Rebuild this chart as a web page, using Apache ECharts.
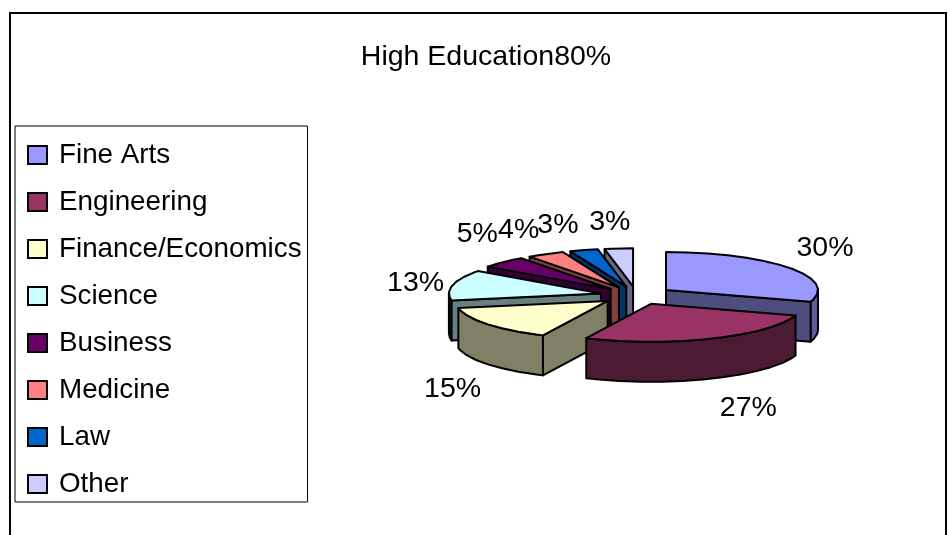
<!DOCTYPE html>
<html>
<head>
<meta charset="utf-8">
<style>html,body{margin:0;padding:0;background:#fff}#chart{width:948px;height:535px}</style>
<script src="https://cdn.jsdelivr.net/npm/echarts@6/dist/echarts.min.js"></script>
</head>
<body>
<div id="chart"></div>
<script>
// Field-of-study shares, in percent, clockwise from twelve o'clock
const categories = ['Fine Arts', 'Engineering', 'Finance/Economics', 'Science', 'Business', 'Medicine', 'Law', 'Other'];
const shares = [30, 27, 15, 13, 5, 4, 3, 3];
const chartTitle = 'High Education80%';

// Slice styling: top face, cut face, outer wall
const topColors = ['#9999ff', '#993366', '#ffffcc', '#ccffff', '#660066', '#ff8080', '#0066cc', '#ccccff'];
const cutColors = ['#4d4d80', '#4d1a33', '#808066', '#668080', '#330033', '#804040', '#003366', '#666680'];
const wallColors = ['#5c5c99', '#4d1a33', '#808066', '#003333', '#330033', '#804040', '#003366', '#666680'];

// Nudges from each slice's rim to its percentage label
const labelNudge = [[36, -20], [37, 29], [-35, 25], [-37, -2], [-26, -28], [-27, -24], [-26, -25], [-9, -26]];

// Tilted pie layout
const pie = { cx: 636.5, cy: 295.4, rx: 152, ry: 38, depth: 40, explode: 0.24, facet: 8 };
const FAMILY = '"Liberation Sans", Arial, sans-serif';
const FONT = '28.5px ' + FAMILY;

const total = shares.reduce((a, b) => a + b, 0);
const rad = d => d * Math.PI / 180;

function sliceAngles(index) {
  const before = shares.slice(0, index).reduce((a, b) => a + b, 0);
  return [before / total * 360, (before + shares[index]) / total * 360];
}

// Sweep of degrees with facet stops, always including both ends
function sweep(from, to) {
  const out = [from];
  let a = (Math.floor(from / pie.facet) + 1) * pie.facet;
  for (; a < to; a += pie.facet) out.push(a);
  out.push(to);
  return out;
}

function renderSlice(index, api) {
  const value = api.value(0);
  const [start] = sliceAngles(index);
  const end = start + value / total * 360;
  const mid = (start + end) / 2;
  const ax = pie.cx + pie.explode * pie.rx * Math.sin(rad(mid));
  const ay = pie.cy - pie.explode * pie.ry * Math.cos(rad(mid));
  const rim = d => [ax + pie.rx * Math.sin(rad(d)), ay - pie.ry * Math.cos(rad(d))];
  const drop = p => [p[0], p[1] + pie.depth];
  const line = { stroke: '#000', lineWidth: 2, lineJoin: 'round' };
  const poly = (points, fill) => ({ type: 'polygon', shape: { points }, style: { fill, ...line } });
  const children = [];

  // The outer wall shows only along the near half of the rim
  const wallFrom = Math.max(start, 90), wallTo = Math.min(end, 270);
  if (wallFrom < wallTo) {
    const arc = sweep(wallFrom, wallTo).map(rim);
    children.push(poly(arc.concat(arc.map(drop).reverse()), wallColors[index]));
  }
  // Cut faces that turn toward the viewer
  const face = d => {
    const p = rim(d);
    children.push(poly([[ax, ay], p, drop(p), [ax, ay + pie.depth]], cutColors[index]));
  };
  if (Math.sin(rad(end)) > 0.001) face(end);
  if (Math.sin(rad(start)) < -0.001) face(start);

  children.push(poly([[ax, ay]].concat(sweep(start, end).map(rim)), topColors[index]));

  const edge = rim(mid);
  const lift = Math.cos(rad(mid)) < -0.2 ? pie.depth : 0;
  children.push({
    type: 'text',
    x: edge[0] + labelNudge[index][0],
    y: edge[1] + lift + labelNudge[index][1],
    style: { text: value + '%', font: FONT, fill: '#000', align: 'center', verticalAlign: 'middle' }
  });
  return { type: 'group', children };
}

// Far slices are painted first so near ones cover them
function paintOrder(index) {
  const [s, e] = sliceAngles(index);
  return 2 + (1 - Math.cos(rad((s + e) / 2)));
}

const chart = echarts.init(document.getElementById('chart'), null, { renderer: 'canvas' });
chart.setOption({
  animation: false,
  backgroundColor: '#fff',
  title: {
    text: chartTitle,
    left: 481,
    textAlign: 'center',
    top: 38,
    textStyle: { fontFamily: FAMILY, fontSize: 28.5, fontWeight: 'normal', color: '#000' }
  },
  legend: {
    data: categories,
    orient: 'vertical',
    left: 15,
    top: 126,
    padding: [15, 6, 4, 12],
    itemGap: 19,
    itemWidth: 19,
    itemHeight: 18,
    icon: 'rect',
    selectedMode: false,
    backgroundColor: '#fff',
    borderColor: '#000',
    borderWidth: 1,
    itemStyle: { borderColor: '#000', borderWidth: 2 },
    textStyle: {
      fontFamily: FAMILY,
      fontSize: 27.8,
      lineHeight: 27,
      color: '#000',
      padding: [0, 0, 0, 7]
    }
  },
  graphic: [{
    type: 'polyline',
    silent: true,
    shape: { points: [[10, 540], [10, 13], [946, 13], [946, 540]] },
    style: { stroke: '#000', lineWidth: 2, fill: 'none' }
  }],
  series: categories.map((name, i) => ({
    type: 'custom',
    name,
    coordinateSystem: 'none',
    silent: true,
    z: paintOrder(i),
    itemStyle: { color: topColors[i] },
    data: [[shares[i]]],
    renderItem: (params, api) => renderSlice(i, api)
  }))
});
</script>
</body>
</html>
